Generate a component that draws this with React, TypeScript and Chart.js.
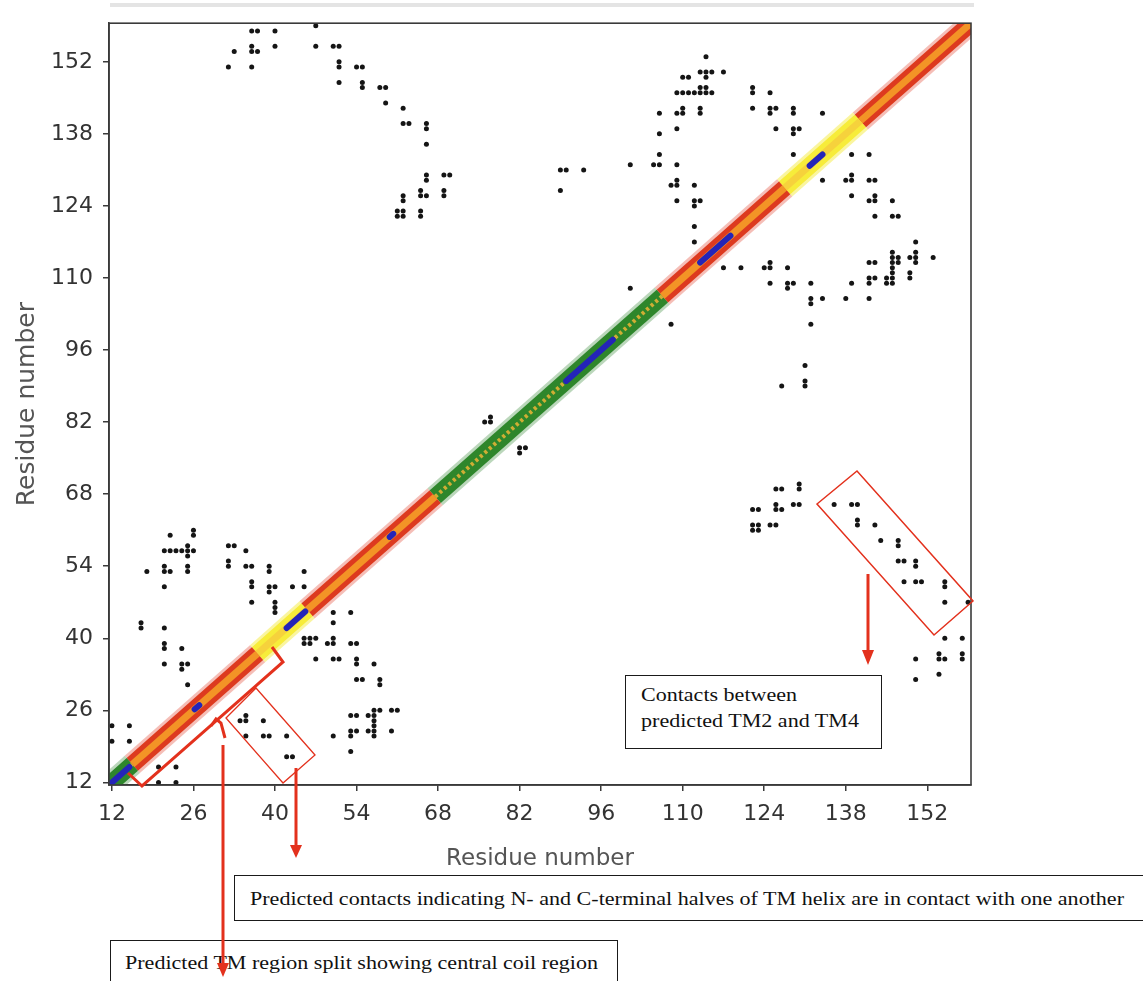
import React, { useEffect, useLayoutEffect, useRef } from 'react';
import { Chart, registerables } from 'chart.js';

Chart.register(...registerables);

// ---------- axis ----------
const AXIS_MIN = 11.5;
const AXIS_MAX = 159.5;
const tickValues = [12, 26, 40, 54, 68, 82, 96, 110, 124, 138, 152];

// ---------- predicted contacts (residue i, residue j) ----------
const upperLeftContacts: [number, number][] = [
  [32, 151], [33, 154], [36, 158], [37, 158], [36, 155], [36, 154], [37, 154], [36, 151],
  [40, 158], [40, 155], [47, 159], [47, 155], [50, 155], [51, 155], [51, 152], [51, 151],
  [51, 148], [54, 151], [55, 151], [55, 148], [55, 147], [58, 147], [59, 147], [59, 144],
  [62, 143], [62, 140], [63, 140], [66, 140], [66, 139], [66, 136], [66, 130], [66, 129],
  [69, 130], [70, 130], [69, 127], [69, 126], [65, 127], [65, 126], [66, 126], [62, 126],
  [62, 125], [61, 123], [61, 122], [62, 123], [62, 122], [65, 123], [65, 122],
];

const upperRightContacts: [number, number][] = [
  [114, 153], [110, 149], [111, 149], [113, 150], [114, 150], [115, 150], [114, 149], [117, 150],
  [109, 146], [110, 146], [111, 146], [112, 146], [113, 146], [114, 146], [115, 146], [113, 147],
  [114, 147], [106, 142], [109, 142], [110, 142], [110, 143], [113, 143], [113, 142], [122, 147],
  [122, 146], [125, 146], [122, 143], [125, 143], [126, 143], [125, 142], [129, 143], [129, 142],
  [134, 142], [106, 138], [109, 139], [126, 139], [129, 139], [130, 139], [129, 138], [106, 134],
  [101, 132], [105, 132], [106, 132], [109, 132], [129, 134], [139, 134], [142, 134], [108, 128],
  [109, 128], [109, 129], [112, 128], [134, 129], [138, 129], [139, 129], [139, 130], [142, 129],
  [143, 129], [109, 125], [112, 125], [112, 124], [113, 125], [139, 126], [142, 125], [143, 125],
  [143, 126], [146, 125], [143, 122], [146, 122], [147, 122], [112, 120], [112, 117], [117, 112],
  [120, 112], [124, 112], [125, 112], [125, 113], [128, 112], [142, 113], [143, 113], [142, 110],
  [143, 110], [142, 109], [146, 115], [146, 114], [146, 113], [146, 112], [146, 111], [146, 110],
  [146, 109], [147, 114], [147, 113], [125, 109], [128, 109], [129, 109], [128, 108], [132, 109],
  [132, 106], [132, 105], [134, 106], [132, 101], [138, 106], [139, 109], [142, 106], [145, 110],
  [145, 109], [150, 117], [150, 115], [150, 114], [150, 113], [149, 114], [149, 111], [149, 110],
  [153, 114], [131, 93], [131, 90], [131, 89], [127, 89], [101, 108], [108, 101],
];

const middleContacts: [number, number][] = [
  [89, 131], [90, 131], [93, 131], [89, 127], [76, 82], [77, 83], [77, 82], [82, 77], [83, 77], [82, 76],
];

const lowerLeftContacts: [number, number][] = [
  [22, 60], [26, 61], [26, 60], [21, 57], [22, 57], [23, 57], [24, 57], [25, 57], [26, 57],
  [25, 58], [25, 56], [21, 54], [22, 53], [21, 53], [25, 54], [25, 53], [18, 53], [21, 50],
  [17, 43], [17, 42], [21, 42], [21, 39], [21, 38], [24, 38], [21, 35], [24, 35], [25, 35],
  [24, 34], [25, 31], [32, 58], [33, 58], [32, 55], [32, 54], [35, 57], [35, 54], [36, 54],
  [36, 51], [36, 50], [39, 54], [39, 53], [39, 50], [40, 50], [39, 49], [36, 47], [40, 47],
  [40, 46], [40, 45], [43, 50], [45, 53], [45, 50], [50, 45], [53, 45], [50, 43], [45, 40],
  [46, 40], [47, 40], [45, 39], [46, 39], [49, 39], [50, 39], [50, 40], [53, 39], [54, 39],
  [47, 36], [50, 36], [51, 36], [54, 36], [54, 35], [57, 35], [54, 32], [55, 32], [58, 32],
  [58, 31], [53, 25], [54, 25], [57, 26], [58, 26], [57, 25], [57, 24], [57, 23], [57, 22],
  [57, 21], [56, 25], [56, 22], [54, 22], [53, 22], [53, 21], [50, 21], [53, 18], [60, 26],
  [61, 26], [60, 22], [12, 23], [15, 23], [12, 20], [15, 20], [20, 15], [23, 15], [20, 12],
  [23, 12], [34, 24], [35, 24], [35, 25], [38, 24], [35, 21], [38, 21], [39, 21], [42, 21],
  [42, 17], [43, 17],
];

const lowerRightContacts: [number, number][] = [
  [126, 69], [127, 69], [130, 70], [130, 69], [122, 65], [123, 65], [126, 66], [126, 65],
  [127, 65], [129, 66], [130, 66], [122, 62], [122, 61], [123, 62], [123, 61], [125, 62],
  [126, 62], [136, 66], [139, 66], [140, 66], [140, 63], [140, 62], [143, 62], [144, 59],
  [147, 59], [147, 58], [147, 55], [148, 55], [150, 55], [150, 54], [148, 51], [150, 51],
  [151, 51], [155, 51], [155, 50], [155, 47], [159, 47], [155, 40], [158, 40], [150, 36],
  [154, 37], [154, 36], [155, 36], [158, 37], [158, 36], [150, 32], [154, 33],
];

// ---------- diagonal secondary-structure band ----------
const segmentStart = [11.5, 15.5, 37, 45.5, 67.5, 106.5, 127.5, 140.5];
const segmentEnd = [15.5, 37, 45.5, 67.5, 106.5, 127.5, 140.5, 159.5];
const segmentKind = ['green', 'red', 'yellow', 'red', 'green', 'red', 'yellow', 'red'];

const blueStart = [12, 26.2, 42, 59.7, 90, 113, 131.8];
const blueEnd = [15, 27, 45.2, 60.3, 98, 118.2, 134];

const BAND_OUTER: Record<string, string> = { red: '#dd3a1f', yellow: '#f7ec3a', green: '#2e862b' };
const BAND_GLOW: Record<string, string> = {
  red: 'rgba(225,70,50,0.35)',
  yellow: 'rgba(246,236,80,0.55)',
  green: 'rgba(60,140,60,0.35)',
};
const BAND_INNER: Record<string, string> = { red: '#f39426', yellow: '#f6d23c', green: '#cfae34' };

function FitText(props: { text: string; left: number; top: number; width: number; size: number }) {
  const ref = useRef<HTMLSpanElement>(null);
  useLayoutEffect(() => {
    const el = ref.current;
    if (!el) return;
    el.style.transform = 'none';
    const w = el.getBoundingClientRect().width;
    if (w > 0) el.style.transform = `scaleX(${props.width / w})`;
  }, [props.text, props.width]);
  return (
    <span
      ref={ref}
      style={{
        position: 'absolute',
        left: props.left,
        top: props.top,
        fontFamily: '"Liberation Serif", "Times New Roman", serif',
        fontSize: props.size,
        lineHeight: 1,
        whiteSpace: 'nowrap',
        transformOrigin: '0 50%',
        color: '#111',
      }}
    >
      {props.text}
    </span>
  );
}

const framePlugin = {
  id: 'frame',
  afterDraw(chart: any) {
    const { ctx, chartArea } = chart;
    ctx.save();
    ctx.fillStyle = '#e4e4e4';
    ctx.fillRect(110, 3, 864, 4);
    ctx.strokeStyle = '#3a3a3a';
    ctx.lineWidth = 1.6;
    ctx.strokeRect(chartArea.left, chartArea.top, chartArea.right - chartArea.left, chartArea.bottom - chartArea.top);
    ctx.restore();
  },
};

export default function App() {
  const canvasRef = useRef<HTMLCanvasElement>(null);

  useEffect(() => {
    const canvas = canvasRef.current;
    if (!canvas) return;
    const toPts = (arr: [number, number][]) => arr.map(([x, y]) => ({ x, y }));
    const datasets: any[] = [];

    segmentStart.forEach((s, i) => {
      const e = segmentEnd[i];
      const k = segmentKind[i];
      const seg = [{ x: s, y: s }, { x: e, y: e }];
      datasets.push({
        data: seg,
        showLine: true,
        borderColor: BAND_GLOW[k],
        borderWidth: 23,
        borderCapStyle: 'butt',
        pointRadius: 0,
        clip: 0,
        order: 12,
      });
      datasets.push({
        data: seg,
        showLine: true,
        borderColor: BAND_OUTER[k],
        borderWidth: 17,
        borderCapStyle: 'butt',
        pointRadius: 0,
        clip: 0,
        order: 11,
      });
      datasets.push({
        data: seg,
        showLine: true,
        borderColor: BAND_INNER[k],
        borderWidth: k === 'green' ? 4 : 7,
        borderDash: k === 'green' ? [3, 3] : [],
        borderCapStyle: 'butt',
        pointRadius: 0,
        clip: 0,
        order: 10,
      });
    });

    blueStart.forEach((s, i) => {
      datasets.push({
        data: [{ x: s, y: s }, { x: blueEnd[i], y: blueEnd[i] }],
        showLine: true,
        borderColor: '#2424b8',
        borderWidth: 6,
        borderCapStyle: 'round',
        pointRadius: 0,
        clip: 0,
        order: 9,
      });
    });

    const allContacts = [
      ...upperLeftContacts,
      ...upperRightContacts,
      ...middleContacts,
      ...lowerLeftContacts,
      ...lowerRightContacts,
    ];
    datasets.push({
      data: toPts(allContacts),
      showLine: false,
      pointRadius: 2.5,
      pointBackgroundColor: '#151515',
      pointBorderWidth: 0,
      order: 1,
    });

    const chart = new Chart(canvas, {
      type: 'scatter',
      data: { datasets },
      options: {
        animation: false,
        responsive: false,
        events: [],
        layout: { padding: { left: 0, top: 20, right: 172, bottom: 108 } },
        plugins: { legend: { display: false }, tooltip: { enabled: false } },
        scales: {
          x: {
            type: 'linear',
            min: AXIS_MIN,
            max: AXIS_MAX,
            afterBuildTicks: (s: any) => {
              s.ticks = tickValues.map((v) => ({ value: v }));
            },
            afterFit: (s: any) => {
              s.height = 88;
            },
            grid: { display: true, drawOnChartArea: false, drawTicks: true, tickLength: 6, color: '#3a3a3a', lineWidth: 1.5 },
            border: { display: true, color: '#3a3a3a', width: 1.6 },
            ticks: {
              font: { family: 'DejaVu Sans', size: 22 },
              color: '#333',
              padding: 10,
              maxRotation: 0,
              autoSkip: false,
            },
            title: {
              display: true,
              text: 'Residue number',
              font: { family: 'DejaVu Sans', size: 23 },
              color: '#555',
              padding: 0,
            },
          },
          y: {
            type: 'linear',
            min: AXIS_MIN,
            max: AXIS_MAX,
            afterBuildTicks: (s: any) => {
              s.ticks = tickValues.map((v) => ({ value: v }));
            },
            afterFit: (s: any) => {
              s.width = 109;
            },
            grid: { display: true, drawOnChartArea: false, drawTicks: true, tickLength: 6, color: '#3a3a3a', lineWidth: 1.5 },
            border: { display: true, color: '#3a3a3a', width: 1.6 },
            ticks: {
              font: { family: 'DejaVu Sans', size: 22 },
              color: '#333',
              padding: 10,
              autoSkip: false,
            },
            title: {
              display: true,
              text: 'Residue number',
              font: { family: 'DejaVu Sans', size: 25 },
              color: '#555',
              padding: { top: 12, bottom: 0 },
            },
          },
        },
      } as any,
      plugins: [framePlugin],
    });
    return () => chart.destroy();
  }, []);

  const red = '#e3311d';
  const box = (left: number, top: number, w: number, h: number): React.CSSProperties => ({
    position: 'absolute',
    left,
    top,
    width: w,
    height: h,
    border: '1.3px solid #1a1a1a',
    background: '#fff',
    boxSizing: 'border-box',
  });

  return (
    <div style={{ position: 'absolute', left: 0, top: 0, width: 1143, height: 981, background: '#fff', overflow: 'hidden' }}>
      <canvas ref={canvasRef} width={1143} height={981} style={{ position: 'absolute', left: 0, top: 0 }} />
      <div style={box(625, 675, 257, 74)} />
      <FitText text="Contacts between" left={641} top={685} width={156} size={19} />
      <FitText text="predicted TM2 and TM4" left={641} top={711} width={218} size={19} />
      <div style={box(234, 875, 910, 46)} />
      <FitText text="Predicted contacts indicating N- and C-terminal halves of TM helix are in contact with one another" left={250} top={889} width={874} size={19} />
      <div style={{ ...box(110, 940, 508, 60) }} />
      <FitText text="Predicted TM region split showing central coil region" left={125} top={953} width={473} size={19} />
      <svg width={1143} height={981} style={{ position: 'absolute', left: 0, top: 0 }}>
        <polygon points="817,504 857,471 973,601 934,635" fill="none" stroke={red} strokeWidth={1.5} />
        <polygon points="226,718 256,688 315,755 283,783" fill="none" stroke={red} strokeWidth={1.3} />
        <polyline points="128,773 142,786 283,662 272,647" fill="none" stroke={red} strokeWidth={3} strokeLinejoin="miter" />
        <polyline points="211,726 216,719 221,723 225,738" fill="none" stroke={red} strokeWidth={3} />
        <line x1={868} y1={574} x2={868} y2={652} stroke={red} strokeWidth={3} />
        <polygon points="862,650 874,650 868,665" fill={red} />
        <line x1={296} y1={768} x2={296} y2={846} stroke={red} strokeWidth={3} />
        <polygon points="290,845 302,845 296,858" fill={red} />
        <line x1={223} y1={745} x2={223} y2={964} stroke={red} strokeWidth={3} />
        <polygon points="217,963 229,963 223,977" fill={red} />
      </svg>
    </div>
  );
}
